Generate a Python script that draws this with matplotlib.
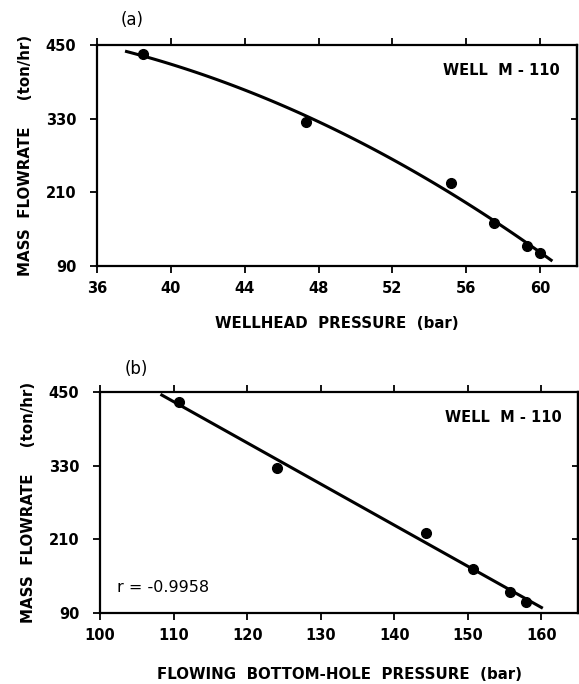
import numpy as np
import matplotlib.pyplot as plt

##------DATA: WELL M-110---------------------------------------------
# (a) wellhead pressure vs mass flowrate
whp_bar = [38.5, 47.3, 55.2, 57.5, 59.3, 60.0]
flow_a = [435, 325, 225, 160, 123, 111]

# (b) flowing bottom-hole pressure vs mass flowrate
fbhp_bar = [110.8, 124.1, 144.3, 150.7, 155.7, 157.9]
flow_b = [434, 326, 220, 162, 124, 108]

# extent of the fitted curves
fit_range_a = [37.6, 60.6]
fit_range_b = [108.4, 160.0]

y_ticks = [90, 210, 330, 450]
x_ticks_a = [36, 40, 44, 48, 52, 56, 60]
x_ticks_b = [100, 110, 120, 130, 140, 150, 160]

plt.rcParams['font.family'] = 'DejaVu Sans'
plt.rcParams['font.weight'] = 'bold'

fig = plt.figure(figsize=(5.79, 6.84), dpi=100)
ax_a = fig.add_axes([0.1675, 0.611, 0.829, 0.323])
ax_b = fig.add_axes([0.1727, 0.104, 0.826, 0.323])


def style_axes(ax, xticks, xlim):
    ax.set_xlim(xlim)
    ax.set_ylim(90, 450)
    ax.set_xticks(xticks)
    ax.set_yticks(y_ticks)
    for s in ax.spines.values():
        s.set_linewidth(1.6)
    ax.tick_params(axis='both', direction='out', length=5, width=1.3,
                   labelsize=10.5)
    ax.tick_params(axis='x', top=True, pad=6)
    ax.tick_params(axis='y', pad=10)
    # small inward ticks on the right-hand frame
    right = ax.secondary_yaxis('right')
    right.set_yticks(y_ticks)
    right.tick_params(direction='in', length=4, width=1.3, labelright=False)
    right.spines['right'].set_linewidth(1.6)
    for lbl in ax.get_xticklabels() + ax.get_yticklabels():
        lbl.set_fontweight('bold')
    ax.set_ylabel('MASS  FLOWRATE     (ton/hr)', fontsize=10.8,
                  fontweight='bold', labelpad=9)
    ax.text(0.965, 0.885, 'WELL  M - 110', transform=ax.transAxes,
            ha='right', va='center', fontsize=10.5, fontweight='bold')


##------PANEL (a): quadratic fit---------------------------------------
coef_a = np.polyfit(whp_bar, flow_a, 2)
xa = np.linspace(fit_range_a[0], fit_range_a[1], 100)
ax_a.plot(xa, np.polyval(coef_a, xa), color='black', lw=2.2)
ax_a.plot(whp_bar, flow_a, 'o', color='black', markersize=7)
style_axes(ax_a, x_ticks_a, (36, 62))
ax_a.set_xlabel('WELLHEAD  PRESSURE  (bar)', fontsize=10.8,
                fontweight='bold', labelpad=14)
ax_a.text(0.073, 1.115, '(a)', transform=ax_a.transAxes, ha='center',
          va='center', fontsize=12, fontweight='normal')

##------PANEL (b): linear fit------------------------------------------
coef_b = np.polyfit(fbhp_bar, flow_b, 1)
xb = np.array(fit_range_b)
ax_b.plot(xb, np.polyval(coef_b, xb), color='black', lw=2.2)
ax_b.plot(fbhp_bar, flow_b, 'o', color='black', markersize=7)
style_axes(ax_b, x_ticks_b, (100, 165))
ax_b.set_xlabel('FLOWING  BOTTOM-HOLE  PRESSURE  (bar)', fontsize=10.8,
                fontweight='bold', labelpad=17)
ax_b.text(0.075, 1.105, '(b)', transform=ax_b.transAxes, ha='center',
          va='center', fontsize=12, fontweight='normal')
ax_b.text(0.035, 0.115, 'r = -0.9958', transform=ax_b.transAxes,
          ha='left', va='center', fontsize=11.5, fontweight='normal')

fig.savefig('out.png', dpi=100)
